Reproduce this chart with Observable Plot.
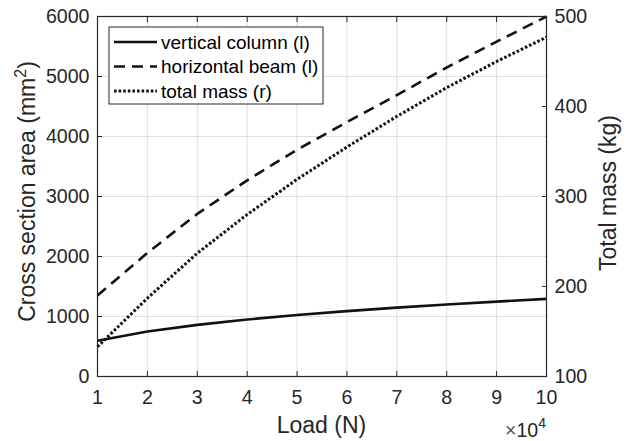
<!DOCTYPE html>
<html><head><meta charset="utf-8">
<script src="https://cdn.jsdelivr.net/npm/d3@7"></script>
<script src="https://cdn.jsdelivr.net/npm/@observablehq/plot@0.6"></script>
<style>
body{margin:0;background:#fff;}
#chart{width:628px;height:441px;}
#chart svg{font-family:"Liberation Sans",Arial,Helvetica,sans-serif;background:#fff;}
</style></head><body><div id="chart"></div>
<script>
// ---- data ----
const loads = [10000, 20000, 30000, 40000, 50000, 60000, 70000, 80000, 90000, 100000];
const verticalColumn = [595, 750, 860, 950, 1025, 1090, 1148, 1200, 1248, 1293];
const horizontalBeam = [1350, 2060, 2710, 3270, 3780, 4240, 4690, 5150, 5580, 6000];
const totalMass = [133, 187, 237, 280, 319, 355, 389, 421, 450, 477];
const xTicks = [10000, 20000, 30000, 40000, 50000, 60000, 70000, 80000, 90000, 100000];
const leftTicks = [0, 1000, 2000, 3000, 4000, 5000, 6000];
const rightTicks = [100, 200, 300, 400, 500];
const seriesNames = ["vertical column (l)", "horizontal beam (l)", "total mass (r)"];
const leftDomain = [0, 6000];
const rightDomain = [100, 500];

(function () {
// right-axis values mapped onto the left scale
const toLeft = d3.scaleLinear(rightDomain, leftDomain);

const styles = [
  {dash: null, width: 2.6},
  {dash: "11,7", width: 2.6},
  {dash: "2.6,2", width: 3}
];
const seriesValues = [verticalColumn, horizontalBeam, totalMass.map(v => toLeft(v))];
const rows = [];
seriesNames.forEach((name, i) => loads.forEach((x, j) => rows.push({series: name, load: x, value: seriesValues[i][j]})));

const axisColor = "#262626";
const tickFont = 19.6;
const labelFont = 23;

const lineMarks = seriesNames.map((name, i) =>
  Plot.line(rows.filter(r => r.series === name), {
    x: "load", y: "value", stroke: "#111", strokeWidth: styles[i].width,
    strokeDasharray: styles[i].dash, strokeLinecap: "butt", strokeLinejoin: "round"
  })
);

const plot = Plot.plot({
  width: 628, height: 441,
  marginLeft: 97, marginRight: 82, marginTop: 16, marginBottom: 65,
  style: {fontFamily: '"Liberation Sans",Arial,Helvetica,sans-serif', background: "#fff", overflow: "visible"},
  x: {domain: [10000, 100000]},
  y: {domain: leftDomain},
  marks: [
    Plot.gridX(xTicks, {stroke: "#dfdfdf", strokeOpacity: 1, strokeWidth: 1}),
    Plot.gridY(leftTicks, {stroke: "#dfdfdf", strokeOpacity: 1, strokeWidth: 1}),
    ...lineMarks,
    Plot.frame({stroke: axisColor, strokeWidth: 1.2}),
    Plot.axisX(xTicks, {anchor: "bottom", tickSize: -5, tickPadding: 19, tickFormat: d => String(d / 1e4), fontSize: tickFont, color: axisColor, label: null}),
    Plot.axisX(xTicks, {anchor: "top", tickSize: -5, tickFormat: () => "", color: axisColor, label: null}),
    Plot.axisY(leftTicks, {anchor: "left", tickSize: -5, tickPadding: 13, tickFormat: d => String(d), fontSize: tickFont, color: axisColor, label: null}),
    Plot.axisY(rightTicks.map(v => toLeft(v)), {anchor: "right", tickSize: -5, tickPadding: 13, tickFormat: d => String(Math.round(toLeft.invert(d))), fontSize: tickFont, color: axisColor, label: null})
  ]
});

document.getElementById("chart").appendChild(plot);
const svg = d3.select(plot);
const xs = plot.scale("x"), ys = plot.scale("y");
const x0 = xs.range[0], x1 = xs.range[1];
const yTop = ys.range[1], yBottom = ys.range[0];
const midY = (yTop + yBottom) / 2 - 4.5;

// axis labels
const yl = svg.append("text")
  .attr("transform", `translate(35,${midY}) rotate(-90)`)
  .attr("text-anchor", "middle").attr("fill", axisColor).attr("font-size", labelFont);
yl.append("tspan").text("Cross section area (mm");
yl.append("tspan").attr("font-size", 16).attr("dy", -9).text("2");
yl.append("tspan").attr("dy", 9).text(")");

svg.append("text")
  .attr("transform", `translate(616,${midY + 1.5}) rotate(-90)`)
  .attr("text-anchor", "middle").attr("fill", axisColor).attr("font-size", labelFont)
  .text("Total mass (kg)");

svg.append("text")
  .attr("x", (x0 + x1) / 2).attr("y", 433)
  .attr("text-anchor", "middle").attr("fill", axisColor).attr("font-size", labelFont)
  .text("Load (N)");

const ex = svg.append("text").attr("x", x1).attr("y", 437)
  .attr("text-anchor", "end").attr("fill", axisColor).attr("font-size", tickFont);
ex.append("tspan").attr("fill", "#555").text("\u00d7");
ex.append("tspan").text("10");
ex.append("tspan").attr("font-size", 14).attr("dy", -9).text("4");

// legend (MATLAB 'northwest')
const lg = svg.append("g").attr("text-anchor", "start");
const bx = x0 + 12, by = yTop + 11, bw = 214, bh = 77;
lg.append("rect").attr("x", bx).attr("y", by).attr("width", bw).attr("height", bh)
  .attr("fill", "#fff").attr("stroke", axisColor).attr("stroke-width", 1);
seriesNames.forEach((name, i) => {
  const cy = by + 15 + i * 24.5;
  lg.append("line").attr("x1", bx + 5).attr("x2", bx + 48).attr("y1", cy).attr("y2", cy)
    .attr("stroke", "#111").attr("stroke-width", styles[i].width)
    .attr("stroke-dasharray", styles[i].dash);
  lg.append("text").attr("x", bx + 52).attr("y", cy).attr("dy", "0.35em")
    .attr("text-anchor", "start")
    .attr("fill", "#000").attr("font-size", 19).text(name);
});
})();
</script>
</body></html>
